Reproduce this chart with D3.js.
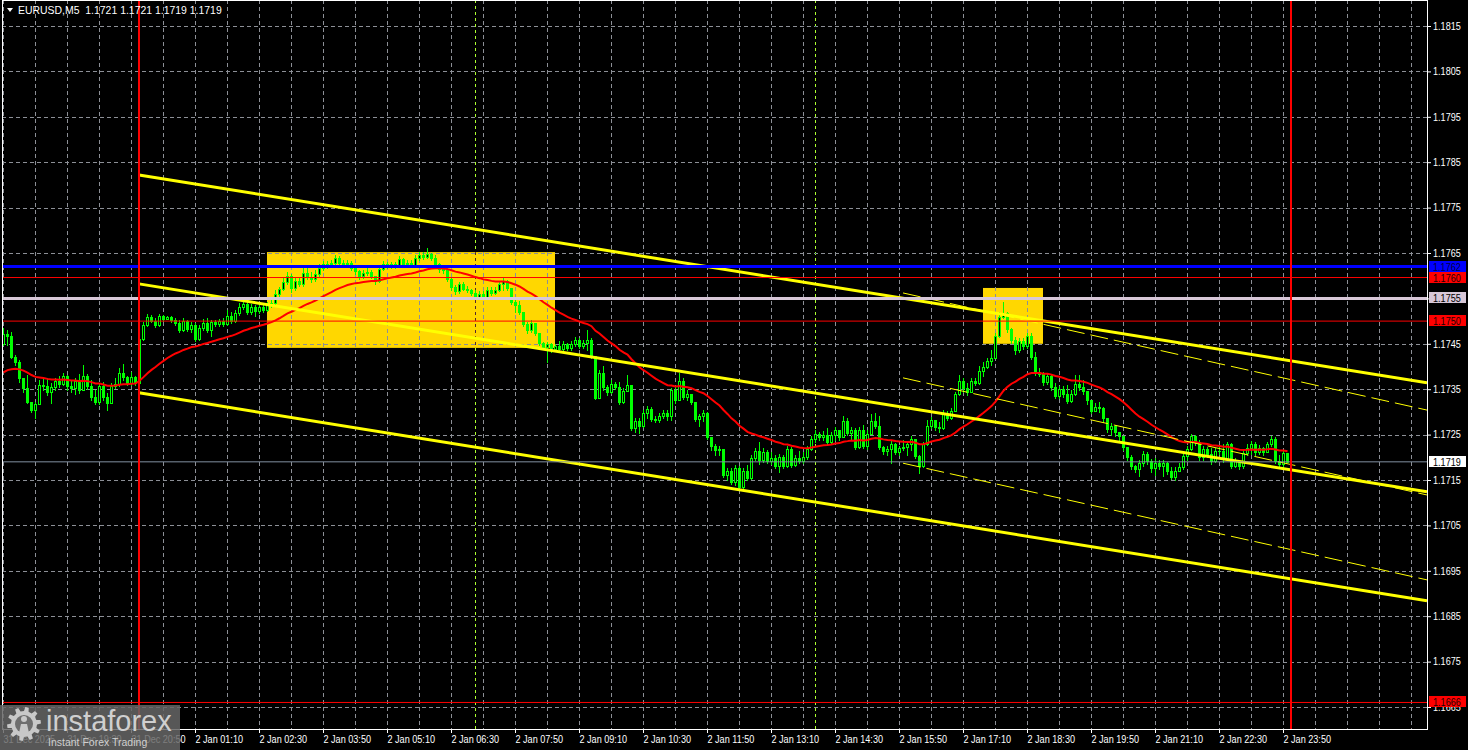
<!DOCTYPE html>
<html><head><meta charset="utf-8">
<script src="https://cdn.jsdelivr.net/npm/d3@7"></script>
<style>
html,body{margin:0;padding:0;background:#000;overflow:hidden;}
svg{display:block;}
text{font-family:"Liberation Sans",Arial,sans-serif;}
</style></head><body>
<svg id="c" width="1468" height="750"></svg>
<script>
// ---------------- DATA (prices in pips above basePrice) ----------------
const symbol = "EURUSD,M5";
const basePrice = 1.1700;
const firstOpen = 45.0;

// 31 Dec 2025, 18:10 .. 20:55
const decCloses = [47.2,46.7,42.1,41.0,37.5,35.3,32.2,30.4,31.7,35.9,35.7,34.4,35.5,36.8,36.2,37.9,35.7,35.3,36.8,34.8,37.9,35.7,33.3,32.2,35.7,33.3,32.0,35.7,36.2,38.6,37.7,36.4,37.7,36.4];
const decHighs  = [48.5,48.0,47.6,42.5,41.4,37.5,38.1,31.5,32.2,37.0,37.5,37.5,36.4,37.5,37.9,38.6,38.1,36.8,37.5,38.4,40.3,38.4,37.0,34.8,36.4,36.6,34.2,36.4,37.5,39.7,40.6,37.9,38.8,37.9];
const decLows   = [44.7,44.7,41.9,40.3,36.6,34.4,32.0,30.0,28.6,32.6,34.8,33.7,32.0,34.8,35.5,35.9,34.8,34.4,33.9,34.2,34.8,35.1,32.6,31.7,31.7,32.6,30.4,32.0,35.3,35.7,37.0,35.9,35.9,35.9];

// 2 Jan 2026, 00:00 .. 23:55
const janCloses = [
46.1,49.1,50.9,50.0,49.1,51.1,50.5,50.9,50.2,49.6, 48.0,50.0,48.3,49.1,46.1,48.5,49.6,48.0,49.8,49.4,
50.0,49.4,51.1,50.0,51.8,53.1,53.8,52.0,53.1,52.2, 53.1,52.4,53.5,54.0,56.0,57.1,58.6,59.9,57.3,58.8,
58.2,60.6,59.7,59.3,60.4,61.7,62.6,62.6,62.8,63.9, 62.8,62.6,62.8,61.7,61.0,59.9,60.6,60.8,59.9,58.8,
61.5,62.6,62.1,62.6,62.1,63.7,62.6,62.8,62.4,63.9, 64.6,64.1,64.8,63.9,62.6,61.5,61.3,59.3,57.5,56.6,
58.2,57.1,56.9,56.2,55.3,56.0,55.3,56.9,56.2,56.9, 58.2,58.8,57.3,54.2,53.5,52.0,49.4,48.0,49.6,47.4,
45.2,44.3,45.0,43.9,44.5,43.9,45.0,44.1,45.0,45.8, 44.5,45.2,45.8,42.3,33.1,38.6,35.5,34.4,36.2,35.5,
32.2,34.6,35.9,26.5,28.0,26.9,29.8,30.6,28.4,28.2, 29.1,29.8,29.1,34.8,32.6,36.8,33.3,33.9,32.2,28.4,
29.1,29.8,24.5,22.5,21.6,21.8,16.1,17.0,14.6,17.6, 13.5,17.0,15.5,19.9,21.4,19.4,21.2,19.2,19.9,18.1,
20.1,18.1,21.8,18.3,19.9,19.2,20.1,21.8,24.0,25.2, 24.5,24.9,23.4,24.9,26.0,24.5,28.0,25.4,26.0,22.3,
26.0,22.5,25.2,28.0,26.9,22.3,21.4,21.8,22.9,21.2, 22.1,22.3,22.9,24.0,20.3,18.1,22.9,26.9,28.2,26.7,
26.5,29.5,28.7,30.2,33.9,36.8,35.3,34.4,36.8,36.4, 39.0,39.9,41.2,41.9,46.7,50.9,51.8,48.3,45.8,43.6,
45.6,44.5,46.7,42.1,38.8,38.4,36.6,37.9,35.5,33.5, 35.1,33.9,32.4,33.9,36.2,35.5,34.6,32.6,30.2,31.1,
30.9,28.7,26.2,26.9,25.6,24.7,22.3,20.1,18.1,17.4, 18.8,20.7,19.2,17.6,18.8,18.1,18.8,17.0,15.7,17.0,
17.9,20.3,21.8,24.7,23.4,20.1,21.8,20.7,19.2,21.4, 21.4,19.6,22.9,18.1,19.2,18.1,21.0,22.1,22.9,21.2,
22.1,21.2,22.9,24.0,19.2,18.5,21.0,19.0];
const janHighs = [
46.7,49.8,51.6,51.3,50.7,51.6,51.3,51.1,51.1,50.7, 50.2,50.7,50.2,49.8,49.6,49.1,50.5,50.7,50.2,50.2,
50.5,50.7,52.4,52.0,52.4,54.0,54.4,54.2,53.8,53.5, 54.0,53.5,54.2,54.9,56.9,57.5,59.5,60.8,60.4,59.5,
59.5,61.7,62.1,60.8,61.3,62.6,63.2,63.2,63.5,64.6, 64.3,63.5,63.5,63.2,62.1,61.3,61.3,61.7,61.3,59.9,
62.1,63.2,63.0,63.0,63.0,64.3,63.9,63.5,63.5,64.6, 65.2,65.2,66.1,65.0,64.6,62.8,62.1,61.7,59.5,58.0,
58.6,58.6,57.7,57.1,56.9,56.6,56.6,57.5,57.5,57.5, 58.8,59.5,59.1,57.3,54.9,54.4,52.0,49.8,50.2,49.4,
47.4,45.4,45.4,45.2,45.0,45.6,45.6,45.2,45.6,46.5, 46.3,45.8,48.0,46.3,42.3,39.2,40.1,35.9,37.0,36.6,
36.6,35.3,38.1,35.9,28.7,28.7,30.4,31.3,31.1,29.1, 29.8,30.4,30.4,35.3,35.5,38.6,37.5,34.8,33.1,32.2,
29.5,30.4,30.0,24.5,22.9,22.5,21.8,17.6,17.6,18.3, 18.1,17.6,18.3,20.5,22.1,23.4,22.1,21.6,21.2,20.5,
20.7,20.5,22.5,22.3,20.5,21.4,21.2,22.5,24.7,26.0, 25.6,25.8,26.5,25.6,26.7,26.0,29.1,28.7,26.7,26.5,
26.7,27.1,26.0,29.5,29.8,29.1,22.5,22.5,23.8,23.1, 22.5,23.8,23.6,24.7,23.6,20.5,23.4,28.2,28.9,28.2,
27.8,30.4,30.2,30.9,34.4,38.1,37.5,36.4,37.5,37.5, 40.1,41.0,41.9,43.6,47.4,52.0,54.2,52.0,48.5,46.5,
46.3,46.3,47.4,47.4,43.2,39.7,38.8,38.6,38.4,36.4, 35.7,35.7,35.9,34.8,38.1,38.1,37.0,34.4,32.6,32.0,
32.2,31.1,28.7,27.6,27.1,25.6,24.7,22.3,20.5,18.3, 19.4,21.4,21.2,19.6,19.9,19.4,19.4,19.0,17.9,17.9,
18.8,20.7,22.5,25.2,24.9,23.8,22.5,22.3,22.1,22.1, 22.5,22.9,23.4,23.1,19.9,19.0,21.6,22.9,23.6,23.4,
22.7,22.3,23.4,24.7,24.5,20.5,21.4,21.0];
const janLows = [
35.9,45.8,48.9,49.8,48.7,48.9,50.0,50.5,49.8,49.1, 47.6,47.8,47.8,47.6,45.6,45.8,48.0,47.6,46.7,48.9,
48.9,48.9,49.1,49.6,49.8,51.3,52.7,51.6,51.6,51.1, 51.8,52.0,52.2,53.1,53.8,55.3,56.9,58.2,56.4,56.9,
57.7,57.7,59.3,58.6,58.8,59.9,61.3,61.7,61.9,62.4, 62.4,61.9,62.1,61.3,60.4,59.3,59.5,60.2,59.5,58.2,
58.6,61.3,61.7,61.7,61.7,61.9,62.1,62.1,61.9,62.1, 63.5,63.7,63.9,63.5,62.1,60.8,60.6,58.8,56.9,56.0,
56.2,56.9,56.4,55.8,54.9,54.9,54.9,55.1,55.8,56.0, 56.6,56.9,56.9,53.8,52.0,51.6,48.9,47.4,47.6,46.9,
44.8,43.9,41.0,43.2,43.6,43.4,43.4,43.6,43.6,44.5, 44.1,44.1,43.6,41.9,32.8,33.1,34.8,33.7,34.2,35.1,
31.7,32.0,34.8,26.0,25.6,25.4,26.7,28.7,28.0,27.8, 27.8,28.7,28.2,28.2,32.0,32.6,32.8,32.6,31.7,28.0,
26.9,28.0,24.1,21.6,20.5,20.5,15.7,15.0,14.1,13.9, 13.0,13.2,15.0,15.2,19.4,18.5,19.0,18.8,18.5,17.6,
16.8,17.6,17.9,17.9,18.1,18.8,18.8,19.6,21.6,23.4, 23.8,23.8,22.9,22.9,23.8,23.8,24.5,24.9,23.8,21.8,
22.1,22.1,21.8,25.6,26.5,21.8,20.7,20.5,18.8,20.7, 20.5,21.6,20.5,21.6,19.9,16.5,17.9,22.7,26.5,26.0,
25.6,26.3,28.2,28.4,30.4,33.7,34.4,33.7,34.4,35.9, 36.2,37.9,39.7,40.3,41.9,46.5,50.7,47.6,45.2,42.8,
43.2,43.9,44.1,41.7,38.1,37.9,35.9,36.2,34.8,33.1, 33.1,33.3,32.0,32.2,33.7,34.8,33.9,31.7,29.8,30.4,
30.0,27.8,25.6,24.9,24.7,23.8,21.6,19.4,17.4,16.8, 15.9,18.1,18.5,16.8,16.1,17.4,15.9,16.3,15.2,15.0,
17.2,17.4,19.4,21.6,22.7,19.4,19.4,20.1,18.5,19.0, 20.7,19.0,19.4,17.6,17.9,17.4,17.6,20.5,20.7,20.5,
20.7,20.5,21.2,22.5,18.8,17.9,17.9,19.0];

const maPeriod = 30;
const maSeed = 38.1;

// axis labels
const priceTicks = [1.1815,1.1805,1.1795,1.1785,1.1775,1.1765,1.1755,1.1745,1.1735,1.1725,1.1715,1.1705,1.1695,1.1685,1.1675,1.1665];
const timeLabels = ["31 Dec 2025","31 Dec 19:30","31 Dec 20:50","2 Jan 01:10","2 Jan 02:30","2 Jan 03:50","2 Jan 05:10","2 Jan 06:30","2 Jan 07:50","2 Jan 09:10","2 Jan 10:30","2 Jan 11:50","2 Jan 13:10","2 Jan 14:30","2 Jan 15:50","2 Jan 17:10","2 Jan 18:30","2 Jan 19:50","2 Jan 21:10","2 Jan 22:30","2 Jan 23:50"];
const labelEvery = 16;   // bars between time labels
const gridEvery = 8;     // bars between vertical grid lines
const totalSlots = 356;  // bar slots across the plot

// horizontal levels
const levelBlue = [1.1762];
const levelSilver = [1.1755];
const levelRed = [1.17596, 1.1750, 1.1666];

// regression channel (bar index, price)
const chanBars = [34, 356];
const chanUpper = [1.17822, 1.17364];
const chanMid   = [1.17582, 1.17124];
const chanLower = [1.17342, 1.16884];
const chan2Bars = [225, 356];
const chan2Upper = [1.17562, 1.17304];
const chan2Mid   = [1.17375, 1.17117];
const chan2Lower = [1.17187, 1.16930];

// rectangles [startBar, endBar, lowPrice, highPrice]
const boxes = [[66, 138, 1.17441, 1.17652], [245, 260, 1.17450, 1.17573]];
// vertical lines (bar index)
const daySeparators = [34, 322];
const eventLines = [118, 203];

// ---------------- BUILD ----------------
const allC = decCloses.concat(janCloses);
const allH = decHighs.concat(janHighs);
const allL = decLows.concat(janLows);
const P = v => basePrice + v / 10000;
const bars = allC.map((c, i) => {
  const o = i === 0 ? firstOpen : allC[i - 1];
  return { i, o: P(o), c: P(c), h: P(Math.max(allH[i], o, c)), l: P(Math.min(allL[i], o, c)) };
});
let m = P(maSeed);
const kk = 2 / (maPeriod + 1);
const ma = bars.map(b => (m = m + kk * (b.c - m)));

const svg = d3.select("#c");
const PL = 2, PT = 0, PR = 1427, PB = 729;
const x = d3.scaleLinear().domain([0, totalSlots]).range([3, 1427]);
const y = d3.scaleLinear().domain([1.1665, 1.1815]).range([707, 26]);

svg.append("rect").attr("width", 1468).attr("height", 750).attr("fill", "#000");
svg.append("defs").append("clipPath").attr("id", "clip")
  .append("rect").attr("x", PL + 1).attr("y", PT + 1).attr("width", PR - PL - 1).attr("height", PB - PT - 1);
const g = svg.append("g").attr("clip-path", "url(#clip)");

// boxes (background)
g.selectAll("rect.box").data(boxes).enter().append("rect")
  .attr("x", d => x(d[0])).attr("width", d => x(d[1]) - x(d[0]))
  .attr("y", d => y(d[3])).attr("height", d => y(d[2]) - y(d[3]))
  .attr("fill", "#ffd700");

// grid
const gridColor = "#8c8f96";
g.selectAll("line.hg").data(priceTicks).enter().append("line")
  .attr("x1", PL).attr("x2", PR).attr("y1", d => Math.round(y(d)) + 0.5).attr("y2", d => Math.round(y(d)) + 0.5)
  .attr("stroke", gridColor).attr("stroke-dasharray", "4,3").attr("shape-rendering", "crispEdges");
g.selectAll("line.vg").data(d3.range(0, totalSlots, gridEvery)).enter().append("line")
  .attr("x1", d => Math.round(x(d)) + 0.5).attr("x2", d => Math.round(x(d)) + 0.5).attr("y1", PT).attr("y2", PB)
  .attr("stroke", gridColor).attr("stroke-dasharray", "4,3").attr("shape-rendering", "crispEdges");

// event lines
g.selectAll("line.ev").data(eventLines).enter().append("line")
  .attr("x1", d => Math.round(x(d)) + 0.5).attr("x2", d => Math.round(x(d)) + 0.5).attr("y1", PT).attr("y2", PB)
  .attr("stroke", "#adff2f").attr("stroke-dasharray", "3,3").style("mix-blend-mode", "difference")
  .attr("shape-rendering", "crispEdges");

// candles
const lime = "#00ff00";
const cg = g.append("g").attr("shape-rendering", "crispEdges");
bars.forEach(b => {
  const cx = Math.round(x(b.i));
  cg.append("line").attr("x1", cx + 0.5).attr("x2", cx + 0.5)
    .attr("y1", Math.round(y(b.h))).attr("y2", Math.round(y(b.l)) + 1).attr("stroke", lime);
  const top = Math.round(y(Math.max(b.o, b.c))), bot = Math.round(y(Math.min(b.o, b.c)));
  if (bot - top < 1) {
    cg.append("rect").attr("x", cx - 1).attr("y", top).attr("width", 3).attr("height", 1).attr("fill", lime);
  } else if (b.c >= b.o) {
    cg.append("rect").attr("x", cx - 0.5).attr("y", top + 0.5).attr("width", 2).attr("height", bot - top)
      .attr("fill", "#000").attr("stroke", lime);
  } else {
    cg.append("rect").attr("x", cx - 1).attr("y", top).attr("width", 3).attr("height", bot - top + 1).attr("fill", lime);
  }
});

// moving average
g.append("path").datum(ma)
  .attr("d", d3.line().x((d, i) => x(i) + 0.5).y(d => y(d)))
  .attr("fill", "none").attr("stroke", "#ff0000").attr("stroke-width", 2);

// channels
const seg = (bs, ps) => [[bs[0], ps[0]], [bs[1], ps[1]]];
const ln = d3.line().x(d => x(d[0])).y(d => y(d[1]));
[chanUpper, chanMid, chanLower].forEach(c => {
  g.append("path").attr("d", ln(seg(chanBars, c))).attr("stroke", "#ffff00").attr("stroke-width", 3).attr("fill", "none");
});
[chan2Upper, chan2Mid, chan2Lower].forEach(c => {
  g.append("path").attr("d", ln(seg(chan2Bars, c))).attr("stroke", "#ffff00").attr("stroke-width", 1)
    .attr("stroke-dasharray", "18,6").attr("fill", "none");
});

// horizontal levels
const hline = (p, color, w) => g.append("line").attr("x1", PL).attr("x2", PR)
  .attr("y1", y(p)).attr("y2", y(p)).attr("stroke", color).attr("stroke-width", w);
levelRed.forEach(p => hline(p, "#ff0000", 1));
levelSilver.forEach(p => hline(p, "#d8c8d8", 3));
levelBlue.forEach(p => hline(p, "#0000ff", 3));
const last = bars[bars.length - 1];
hline(last.c, "#8090a0", 1);

// day separators
g.selectAll("line.ds").data(daySeparators).enter().append("line")
  .attr("x1", d => x(d)).attr("x2", d => x(d)).attr("y1", PT).attr("y2", PB)
  .attr("stroke", "#ff0000").attr("stroke-width", 2);

// frame
svg.append("rect").attr("x", PL + 0.5).attr("y", PT + 0.5).attr("width", PR - PL).attr("height", PB - PT)
  .attr("fill", "none").attr("stroke", "#fff").attr("shape-rendering", "crispEdges");

// axes
const SX = 0.91;
const ay = svg.append("g").attr("transform", `translate(${PR},0)`)
  .call(d3.axisRight(y).tickValues(priceTicks).tickSize(4).tickPadding(2).tickFormat(d3.format(".4f")));
ay.select(".domain").remove();
ay.selectAll("line").attr("stroke", "#fff");
ay.selectAll("text").attr("fill", "#fff").attr("font-size", 10)
  .attr("font-family", "Liberation Sans, Arial, sans-serif")
  .attr("transform", `scale(${SX},1)`).attr("x", 6 / SX);

const labelBars = timeLabels.map((t, i) => i * labelEvery);
const ax = svg.append("g").attr("transform", `translate(0,${PB})`)
  .call(d3.axisBottom(x).tickValues(labelBars).tickSize(4).tickPadding(3).tickFormat((d, i) => timeLabels[i]));
ax.select(".domain").remove();
ax.selectAll("line").attr("stroke", "#fff");
ax.selectAll(".tick").each(function () {
  const t = d3.select(this).select("text");
  t.attr("text-anchor", "start").attr("fill", "#fff").attr("font-size", 10)
    .attr("font-family", "Liberation Sans, Arial, sans-serif").attr("transform", `scale(${SX},1)`);
});

// price labels on axis
const fmt = d3.format(".4f");
const tag = (p, bg, fg) => {
  const yy = y(p);
  svg.append("rect").attr("x", 1429).attr("y", Math.round(yy) - 6).attr("width", 37).attr("height", 11).attr("fill", bg);
  svg.append("text").attr("transform", `translate(1433,${Math.round(yy) + 3.5}) scale(${SX},1)`)
    .attr("font-size", 10).attr("fill", fg).text(fmt(p));
};
levelRed.forEach(p => tag(p, "#ff0000", "#1a0000"));
levelSilver.forEach(p => tag(p, "#d8c8d8", "#000"));
levelBlue.forEach(p => tag(p, "#0000ff", "#000040"));
tag(last.c, "#ffffff", "#000");

// title
svg.append("path").attr("d", "M7,8 L13,8 L10,12 Z").attr("fill", "#fff");
svg.append("text").attr("transform", `translate(18,14) scale(0.95,1)`).attr("font-size", 11).attr("fill", "#fff")
  .style("white-space", "pre")
  .text(`${symbol}  ${fmt(last.o)} ${fmt(last.h)} ${fmt(last.l)} ${fmt(last.c)}`);

// watermark logo
const lg = svg.append("g");
lg.append("rect").attr("x", 0).attr("y", 705).attr("width", 180).attr("height", 45).attr("fill", "#666").attr("opacity", 0.85);
const teeth = 10, rOut = 17, rIn = 13;
const pts = [];
for (let t = 0; t < teeth; t++) {
  const a = t * 2 * Math.PI / teeth, s = 2 * Math.PI / teeth;
  pts.push([a, rIn], [a + s * 0.12, rOut], [a + s * 0.45, rOut], [a + s * 0.57, rIn]);
}
lg.append("path").attr("transform", "translate(24,724)")
  .attr("d", d3.lineRadial().angle(d => d[0]).radius(d => d[1]).curve(d3.curveLinearClosed)(pts))
  .attr("fill", "#c8c8c8");
lg.append("circle").attr("cx", 24).attr("cy", 724).attr("r", 9).attr("fill", "#6e6e6e");
lg.append("circle").attr("cx", 24).attr("cy", 719).attr("r", 3).attr("fill", "#c8c8c8");
lg.append("path").attr("d", "M19,733 L21,724 L27,724 L29,733 Z").attr("fill", "#c8c8c8");
lg.append("text").attr("x", 46).attr("y", 731).attr("font-size", 29).attr("fill", "#cfcfcf").text("instaforex");
lg.append("text").attr("x", 48).attr("y", 746).attr("font-size", 10.5).attr("fill", "#cfcfcf").text("Instant Forex Trading");
</script>
</body></html>
